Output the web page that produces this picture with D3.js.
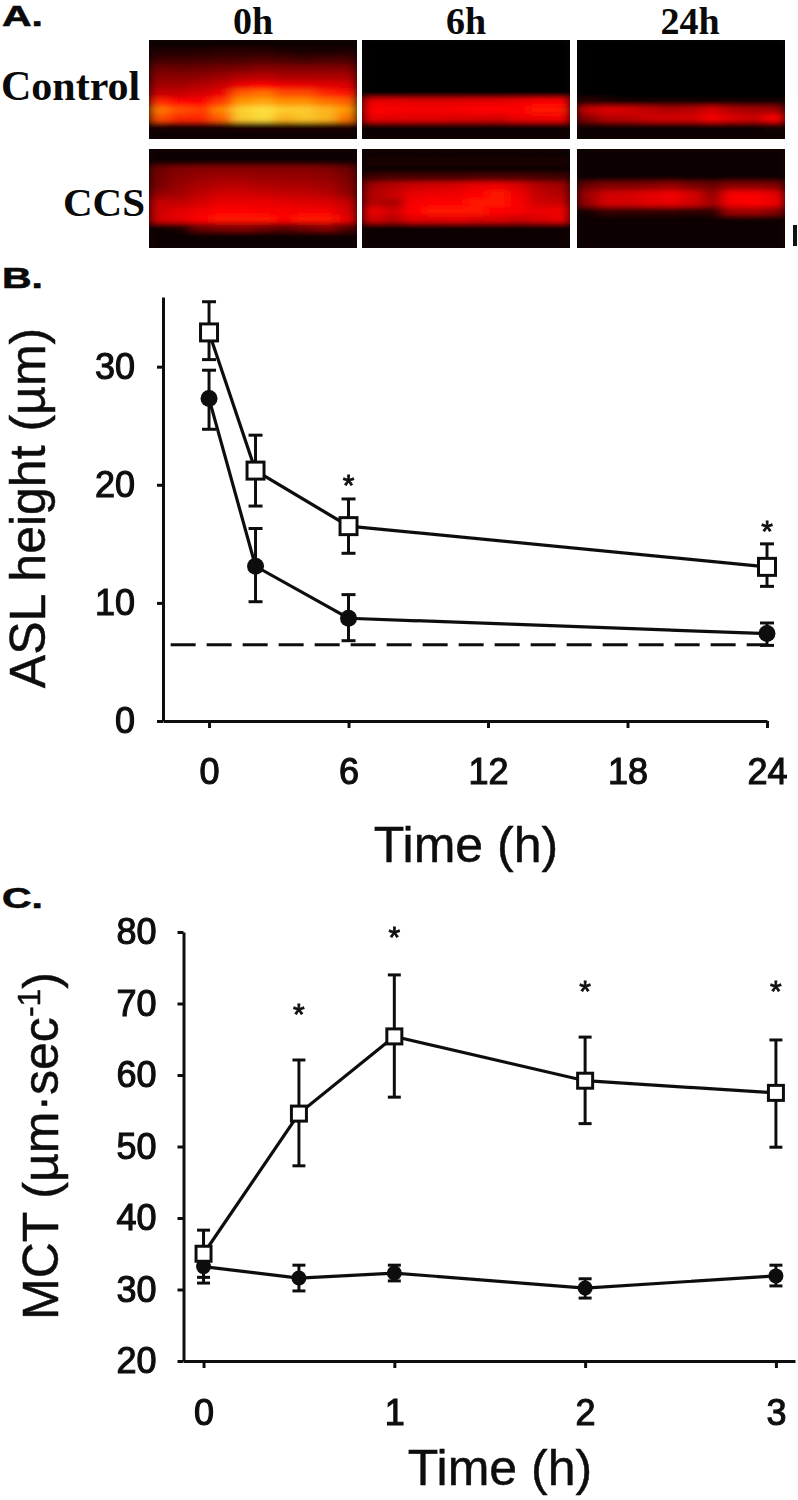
<!DOCTYPE html>
<html>
<head>
<meta charset="utf-8">
<script src="https://cdn.jsdelivr.net/npm/d3@7"></script>
<style>
  html, body { margin: 0; padding: 0; background: #fff; }
  svg { display: block; }
  text { fill: #0a0a0a; }
  .sans { font-family: "Liberation Sans", sans-serif; }
  .serif { font-family: "Liberation Serif", serif; font-weight: bold; }
</style>
</head>
<body>
<svg id="fig" width="798" height="1500"></svg>
<script>
// Panel A: fluorescence intensity (rows top to bottom, 0 = black, 1 = yellow)
const hours = ["0h", "6h", "24h"];
const groups = ["Control", "CCS"];

const control0h = [
  [.02,.02,.02,.02,.02,.02,.02,.02,.02,.02],
  [.08,.08,.09,.1,.1,.1,.08,.06,.07,.08],
  [.17,.17,.18,.2,.2,.22,.2,.18,.2,.2],
  [.3,.28,.3,.32,.34,.38,.36,.36,.36,.36],
  [.38,.38,.4,.44,.5,.52,.48,.48,.48,.48],
  [.46,.46,.5,.56,.68,.72,.68,.66,.64,.62],
  [.56,.56,.6,.68,.82,.84,.8,.8,.76,.74],
  [.76,.72,.72,.78,.88,.9,.87,.87,.84,.82],
  [.84,.8,.78,.86,.96,.98,.95,.95,.92,.88],
  [.8,.76,.76,.82,.95,.97,.92,.94,.92,.84],
  [.06,.05,.05,.05,.06,.07,.07,.07,.07,.07],
  [.02,.02,.02,.02,.02,.02,.02,.02,.02,.02]
];
const control6h = [
  [0,0,0,0,0,0,0,0,0,0], [0,0,0,0,0,0,0,0,0,0], [0,0,0,0,0,0,0,0,0,0],
  [0,0,0,0,0,0,0,0,0,0], [0,0,0,0,0,0,0,0,0,0], [0,0,0,0,0,0,0,0,0,0],
  [0,0,0,0,0,0,0,0,0,0],
  [.66,.66,.64,.64,.64,.66,.66,.68,.72,.72],
  [.72,.7,.7,.7,.7,.72,.72,.72,.74,.74],
  [.66,.64,.64,.64,.62,.62,.6,.66,.68,.7],
  [.03,.03,.03,.03,.03,.03,.03,.03,.03,.03],
  [.02,.02,.02,.02,.02,.02,.02,.02,.02,.02]
];
const control24h = [
  [0,0,0,0,0,0,0,0,0,0], [0,0,0,0,0,0,0,0,0,0], [0,0,0,0,0,0,0,0,0,0],
  [0,0,0,0,0,0,0,0,0,0], [0,0,0,0,0,0,0,0,0,0], [0,0,0,0,0,0,0,0,0,0],
  [0,0,0,0,0,0,0,0,0,0],
  [.1,.06,.03,.02,.02,.02,.02,.02,.02,.03],
  [.56,.62,.6,.54,.5,.52,.6,.5,.46,.44],
  [.38,.5,.52,.58,.6,.6,.7,.62,.58,.72],
  [.02,.03,.03,.03,.03,.03,.03,.03,.03,.04],
  [.02,.02,.02,.02,.02,.02,.02,.02,.02,.02]
];
const ccs0h = [
  [.02,.02,.02,.02,.02,.02,.02,.02,.02,.02],
  [.03,.03,.03,.03,.03,.03,.03,.03,.03,.03],
  [.3,.36,.38,.38,.38,.38,.38,.38,.36,.3],
  [.32,.38,.42,.44,.44,.42,.42,.42,.4,.34],
  [.34,.42,.48,.52,.52,.5,.48,.48,.46,.38],
  [.42,.46,.54,.6,.6,.58,.56,.54,.52,.42],
  [.56,.54,.6,.66,.66,.66,.64,.62,.62,.56],
  [.58,.64,.68,.72,.72,.7,.7,.7,.7,.6],
  [.6,.64,.72,.74,.74,.74,.72,.74,.74,.66],
  [.03,.06,.3,.36,.38,.32,.26,.32,.38,.24],
  [.03,.03,.03,.03,.03,.03,.03,.03,.03,.03],
  [.02,.02,.02,.02,.02,.02,.02,.02,.02,.02]
];
const ccs6h = [
  [.02,.02,.02,.02,.02,.02,.02,.02,.02,.02],
  [.05,.05,.05,.05,.05,.05,.05,.05,.05,.05],
  [.02,.02,.02,.02,.02,.02,.02,.02,.02,.02],
  [.18,.2,.2,.2,.2,.22,.22,.22,.2,.18],
  [.46,.52,.58,.6,.62,.66,.68,.62,.5,.46],
  [.5,.56,.66,.68,.68,.72,.74,.68,.54,.5],
  [.5,.46,.7,.72,.72,.74,.74,.7,.58,.56],
  [.66,.58,.72,.74,.74,.74,.72,.7,.66,.68],
  [.6,.52,.64,.64,.66,.62,.62,.58,.62,.66],
  [.02,.02,.02,.02,.02,.02,.02,.02,.02,.02],
  [.03,.03,.03,.03,.03,.03,.03,.03,.03,.03],
  [.02,.02,.02,.02,.02,.02,.02,.02,.02,.02]
];
const ccs24h = [
  [.02,.02,.02,.02,.02,.02,.02,.02,.02,.02],
  [.02,.02,.02,.02,.02,.02,.02,.02,.02,.02],
  [.02,.02,.02,.02,.02,.02,.02,.02,.02,.02],
  [.03,.03,.03,.03,.03,.03,.03,.03,.03,.03],
  [.3,.36,.36,.38,.42,.34,.3,.38,.38,.36],
  [.44,.58,.6,.64,.68,.6,.42,.7,.7,.64],
  [.42,.6,.6,.64,.66,.6,.46,.7,.72,.68],
  [.05,.14,.12,.12,.12,.1,.12,.44,.46,.38],
  [.02,.02,.02,.02,.02,.02,.02,.02,.02,.02],
  [.02,.02,.02,.02,.02,.02,.03,.02,.02,.02],
  [.02,.02,.02,.02,.02,.02,.03,.02,.02,.02],
  [.02,.02,.02,.02,.02,.02,.02,.02,.02,.02]
];
const imageGrid = [
  [control0h, control6h, control24h],
  [ccs0h, ccs6h, ccs24h]
];

// Panel B: ASL height (um)
const aslTime = [0, 2, 6, 24];
const aslOpen = [32.9, 21.2, 16.5, 13.05];
const aslOpenHi = [35.5, 24.2, 18.8, 15.0];
const aslOpenLo = [30.6, 18.2, 14.2, 11.4];
const aslFilled = [27.3, 13.1, 8.7, 7.4];
const aslFilledHi = [29.7, 16.3, 10.7, 8.3];
const aslFilledLo = [24.7, 10.1, 6.8, 6.4];
const aslBaseline = 6.45;
const aslTicksX = [0, 6, 12, 18, 24];
const aslTicksY = [0, 10, 20, 30];
const aslStars = [[6, 20.3], [24, 16.4]];

// Panel C: MCT (um/sec)
const mctTime = [0, 0.5, 1, 2, 3];
const mctOpen = [35, 54.6, 65.4, 59.2, 57.5];
const mctOpenHi = [38.3, 62.1, 74, 65.3, 64.9];
const mctOpenLo = [31.7, 47.3, 56.9, 53.2, 49.9];
const mctFilled = [33.2, 31.6, 32.3, 30.2, 31.9];
const mctFilledHi = [35.5, 33.4, 33.4, 31.5, 33.4];
const mctFilledLo = [30.9, 29.8, 31.2, 28.8, 30.5];
const mctTicksX = [0, 1, 2, 3];
const mctTicksY = [20, 30, 40, 50, 60, 70, 80];
const mctStars = [[0.5, 69.1], [1, 79.9], [2, 72.3], [3, 72.3]];

const svg = d3.select("#fig");
const defs = svg.append("defs");

// soft edges like the scanned figure
defs.append("filter").attr("id", "soft")
  .append("feGaussianBlur").attr("stdDeviation", 0.45);
defs.append("filter").attr("id", "glow")
  .attr("x", "-20%").attr("y", "-20%").attr("width", "140%").attr("height", "140%")
  .append("feGaussianBlur").attr("stdDeviation", "6 2.6");

const hot = d3.scaleLinear()
  .domain([0, 0.33, 0.72, 0.87, 1])
  .range(["#060606", "#7a0000", "#ff0000", "#ff9000", "#fbf04a"]);

// ---- Panel A ----
const panelX = d3.scaleOrdinal().domain(hours).range([149, 362, 577]);
const panelY = d3.scaleOrdinal().domain(groups).range([40, 149]);
const panelW = 208, panelH = 99;

groups.forEach((group, g) => {
  hours.forEach((hour, h) => {
    const matrix = imageGrid[g][h];
    const id = "clip" + g + h;
    defs.append("clipPath").attr("id", id)
      .append("rect").attr("width", panelW).attr("height", panelH);

    const panel = svg.append("g")
      .attr("transform", `translate(${panelX(hour)},${panelY(group)})`)
      .attr("clip-path", `url(#${id})`);
    panel.append("rect").attr("width", panelW).attr("height", panelH).attr("fill", "#060606");

    const colScale = d3.scaleBand().domain(d3.range(matrix[0].length)).range([0, panelW]);
    const rowScale = d3.scaleBand().domain(d3.range(matrix.length)).range([0, panelH]);

    panel.append("g").attr("filter", "url(#glow)")
      .selectAll("g").data(matrix).enter().append("g")
      .attr("transform", (d, i) => `translate(0,${rowScale(i)})`)
      .selectAll("rect").data((d) => d).enter().append("rect")
      .attr("x", (d, i) => colScale(i))
      .attr("width", colScale.bandwidth() + 0.5)
      .attr("height", rowScale.bandwidth() + 0.5)
      .attr("fill", (d) => hot(d));
  });
});

svg.selectAll(".hourLabel").data(hours).enter().append("text")
  .attr("class", "serif hourLabel")
  .attr("x", (d) => panelX(d) + (d === "24h" ? 113 : 104))
  .attr("y", 34).attr("text-anchor", "middle").attr("font-size", 38)
  .text((d) => d);

svg.append("text").attr("class", "serif").attr("x", 1).attr("y", 100)
  .attr("font-size", 42).text("Control");
svg.append("text").attr("class", "serif").attr("x", 63).attr("y", 216)
  .attr("font-size", 41).text("CCS");

// scale bar
svg.append("rect").attr("x", 793).attr("y", 225).attr("width", 4).attr("height", 21).attr("fill", "#111");

// panel letters
const letters = [["A.", 26], ["B.", 288], ["C.", 908]];
svg.selectAll(".letter").data(letters).enter().append("text")
  .attr("class", "sans letter")
  .attr("x", 2).attr("y", (d) => d[1])
  .attr("font-size", 29).attr("font-weight", "bold")
  .attr("stroke", "#0a0a0a").attr("stroke-width", 0.6)
  .attr("textLength", 41).attr("lengthAdjust", "spacingAndGlyphs")
  .text((d) => d[0]);

// ---- Panels B and C ----
function drawPlot(cfg) {
  const g = svg.append("g").attr("filter", "url(#soft)");
  const x = d3.scaleLinear().domain(cfg.xDomain).range(cfg.xRange);
  const y = d3.scaleLinear().domain(cfg.yDomain).range(cfg.yRange);

  const xAxis = g.append("g")
    .attr("transform", `translate(0,${cfg.yRange[0]})`)
    .call(d3.axisBottom(x).tickValues(cfg.ticksX).tickFormat(d3.format("d"))
      .tickSizeInner(7).tickSizeOuter(0).tickPadding(cfg.padX));
  const yAxis = g.append("g")
    .attr("transform", `translate(${cfg.xRange[0]},0)`)
    .call(d3.axisLeft(y).tickValues(cfg.ticksY).tickFormat(d3.format("d"))
      .tickSizeInner(6).tickSizeOuter(0).tickPadding(cfg.padY));

  [xAxis, yAxis].forEach((axis) => {
    axis.selectAll("path, line").attr("stroke", "#111").attr("stroke-width", 3);
    axis.selectAll("text")
      .attr("class", "sans").attr("font-size", 36)
      .attr("stroke", "#0a0a0a").attr("stroke-width", 1.1);
  });

  if (cfg.baseline !== undefined) {
    g.append("line")
      .attr("x1", x(cfg.baselineFrom)).attr("x2", x(cfg.baselineTo))
      .attr("y1", y(cfg.baseline)).attr("y2", y(cfg.baseline))
      .attr("stroke", "#111").attr("stroke-width", 3)
      .attr("stroke-dasharray", "25 11");
  }

  const line = d3.line().x((d) => x(d[0])).y((d) => y(d[1]));

  const drawSeries = (vals, hi, lo) => {
    const pts = cfg.time.map((t, i) => [t, vals[i], hi[i], lo[i]]);
    g.append("path").datum(pts).attr("d", line)
      .attr("fill", "none").attr("stroke", "#111").attr("stroke-width", 3.2);
    const bars = g.append("g").selectAll("g").data(pts).enter().append("g");
    bars.append("line")
      .attr("x1", (d) => x(d[0])).attr("x2", (d) => x(d[0]))
      .attr("y1", (d) => y(d[2])).attr("y2", (d) => y(d[3]))
      .attr("stroke", "#111").attr("stroke-width", 3);
    [2, 3].forEach((k) => {
      bars.append("line")
        .attr("x1", (d) => x(d[0]) - cfg.cap).attr("x2", (d) => x(d[0]) + cfg.cap)
        .attr("y1", (d) => y(d[k])).attr("y2", (d) => y(d[k]))
        .attr("stroke", "#111").attr("stroke-width", 3);
    });
    return pts;
  };

  const filledPts = drawSeries(cfg.filled, cfg.filledHi, cfg.filledLo);
  g.append("g").selectAll("circle").data(filledPts).enter().append("circle")
    .attr("cx", (d) => x(d[0])).attr("cy", (d) => y(d[1]))
    .attr("r", cfg.radius).attr("fill", "#111");

  const openPts = drawSeries(cfg.open, cfg.openHi, cfg.openLo);
  g.append("g").selectAll("rect").data(openPts).enter().append("rect")
    .attr("x", (d) => x(d[0]) - cfg.box / 2).attr("y", (d) => y(d[1]) - cfg.box / 2)
    .attr("width", cfg.box).attr("height", cfg.box)
    .attr("fill", "#fff").attr("stroke", "#111").attr("stroke-width", 3);

  g.selectAll(".star").data(cfg.stars).enter().append("text")
    .attr("class", "sans star")
    .attr("x", (d) => x(d[0])).attr("y", (d) => y(d[1]) + 14)
    .attr("text-anchor", "middle").attr("font-size", 30)
    .attr("stroke", "#0a0a0a").attr("stroke-width", 0.8)
    .text("*");

  g.append("text").attr("class", "sans")
    .attr("x", cfg.xLabelX).attr("y", cfg.xLabelY)
    .attr("text-anchor", "middle").attr("font-size", 50)
    .attr("stroke", "#0a0a0a").attr("stroke-width", 0.4)
    .text("Time (h)");

  return g;
}

const plotB = drawPlot({
  time: aslTime, open: aslOpen, openHi: aslOpenHi, openLo: aslOpenLo,
  filled: aslFilled, filledHi: aslFilledHi, filledLo: aslFilledLo,
  xDomain: [-1.98, 24], xRange: [163, 767], yDomain: [0, 35.9], yRange: [721, 297],
  ticksX: aslTicksX, ticksY: aslTicksY, padX: 30, padY: 22,
  baseline: aslBaseline, baselineFrom: -1.65, baselineTo: 24,
  cap: 7, box: 17, radius: 8.5, stars: aslStars,
  xLabelX: 466, xLabelY: 862
});
plotB.append("text").attr("class", "sans")
  .attr("transform", "translate(45,508) rotate(-90)")
  .attr("text-anchor", "middle").attr("font-size", 50)
  .attr("stroke", "#0a0a0a").attr("stroke-width", 0.4)
  .text("ASL height (µm)");

const plotC = drawPlot({
  time: mctTime, open: mctOpen, openHi: mctOpenHi, openLo: mctOpenLo,
  filled: mctFilled, filledHi: mctFilledHi, filledLo: mctFilledLo,
  xDomain: [-0.105, 3.1], xRange: [183.5, 795], yDomain: [20, 80], yRange: [1361, 932],
  ticksX: mctTicksX, ticksY: mctTicksY, padX: 31, padY: 21,
  cap: 6.5, box: 15, radius: 7.5, stars: mctStars,
  xLabelX: 500, xLabelY: 1485
});
const mctLabel = plotC.append("text").attr("class", "sans")
  .attr("transform", "translate(58,1146) rotate(-90)")
  .attr("text-anchor", "middle").attr("font-size", 50)
  .attr("stroke", "#0a0a0a").attr("stroke-width", 0.4)
  .text("MCT (µm·sec");
mctLabel.append("tspan").attr("font-size", 32).attr("dy", -18).text("-1");
mctLabel.append("tspan").attr("dy", 18).text(")");
</script>
</body>
</html>
